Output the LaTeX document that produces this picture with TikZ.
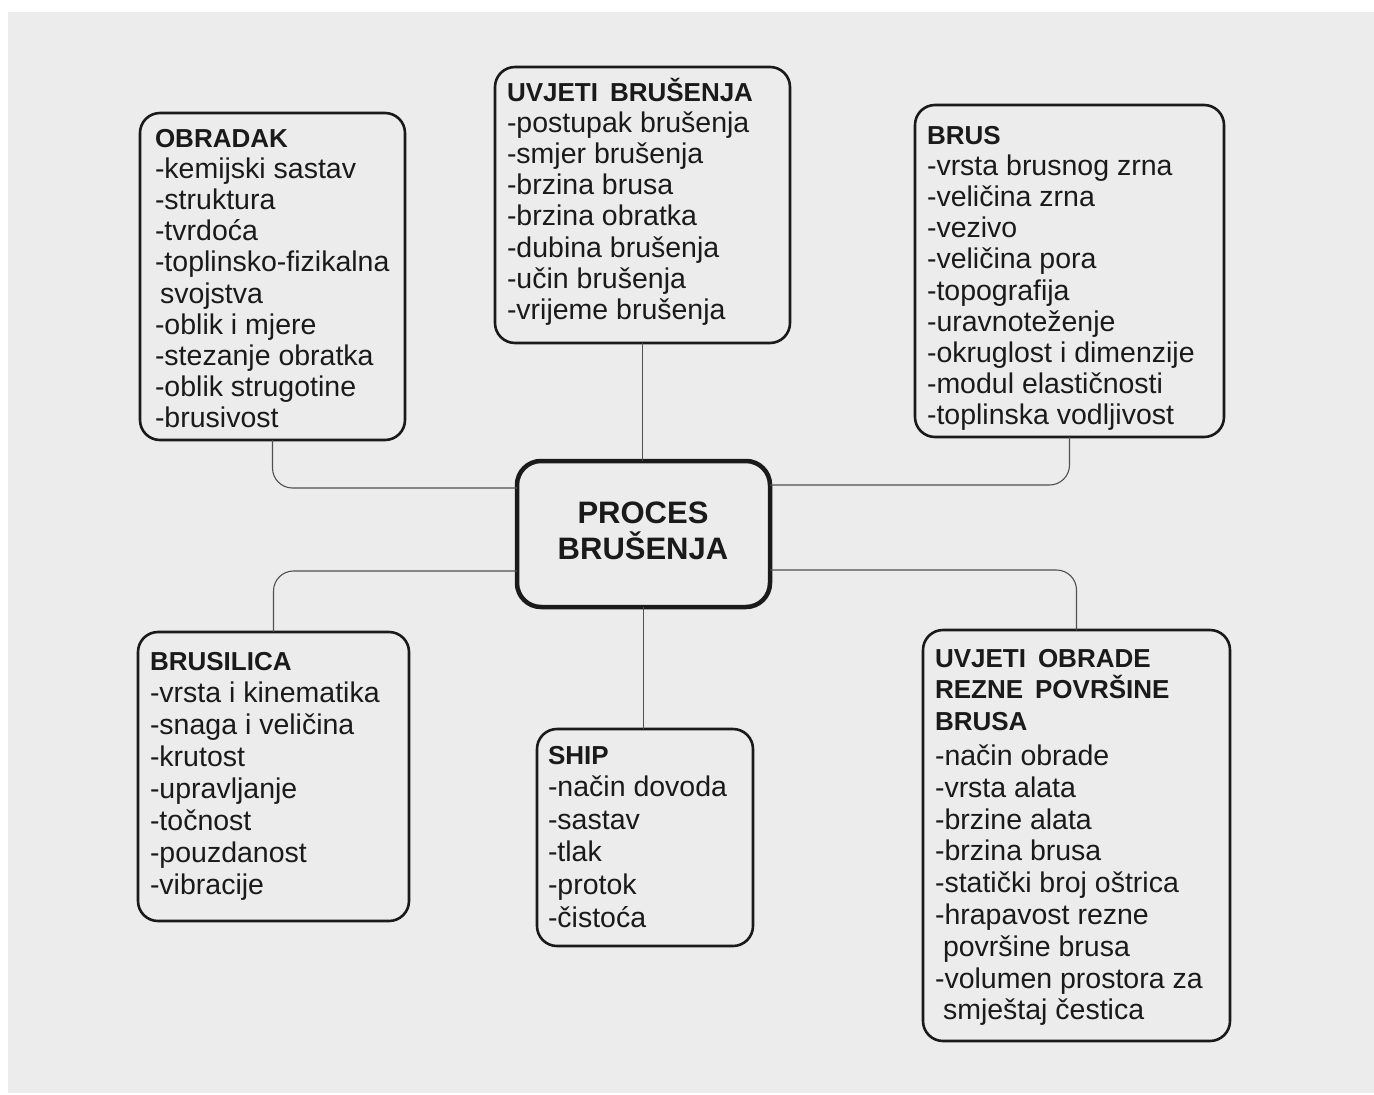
\documentclass[tikz,border=0pt]{standalone}
\usepackage{fontspec}
\setmainfont{Liberation Sans}
\definecolor{bgpaper}{HTML}{ECECEC}
\definecolor{inkc}{HTML}{1A1A1A}
\definecolor{connc}{HTML}{505050}
\newcommand\ttlfont{\fontsize{26pt}{31pt}\selectfont\bfseries}
\newcommand\bodyfont[1]{\fontsize{28.5pt}{#1pt}\selectfont}
\newcommand\firststrut{\rule{0pt}{25pt}}
\begin{document}
\begin{tikzpicture}[x=1pt,y=-1pt,
  box/.style={draw=inkc, line width=2.6pt, rounded corners=20pt, inner sep=0pt, outer sep=0pt, anchor=north west},
  cbox/.style={draw=inkc, line width=4.5pt, rounded corners=24pt, inner sep=0pt, outer sep=0pt, anchor=north west},
  txt/.style={text=inkc, align=left, inner sep=0pt, outer sep=0pt, anchor=north west},
  conn/.style={draw=connc, line width=1.1pt, rounded corners=20pt}]
\useasboundingbox (0,0) rectangle (1374,1095);
\fill[white] (0,0) rectangle (1374,1095);
\fill[bgpaper] (8,12) rectangle (1374,1093);

% boxes
\node[box, minimum width=265pt, minimum height=327pt] (obr) at (140,113) {};
\node[box, minimum width=295pt, minimum height=276pt] (ubr) at (495,67) {};
\node[box, minimum width=309pt, minimum height=332pt] (brus) at (915,105) {};
\node[cbox, minimum width=253pt, minimum height=146pt] (proc) at (517,461) {};
\node[box, minimum width=271pt, minimum height=289pt] (brs) at (138,632) {};
\node[box, minimum width=216pt, minimum height=217pt] (ship) at (537,729) {};
\node[box, minimum width=307pt, minimum height=411pt] (uob) at (923,630) {};

% texts
\node[txt, font=\bodyfont{31.2}] (obrt) at (155,122) {%
{\ttlfont\firststrut OBRADAK}\\
-kemijski sastav\\
-struktura\\
-tvrdoća\\
-toplinsko-fizikalna\\
\hspace*{5pt}svojstva\\
-oblik i mjere\\
-stezanje obratka\\
-oblik strugotine\\
-brusivost};

\node[txt, font=\bodyfont{31.2}] (ubrt) at (507,76) {%
{\ttlfont\firststrut UVJETI\hspace{12pt}BRUŠENJA}\\
-postupak brušenja\\
-smjer brušenja\\
-brzina brusa\\
-brzina obratka\\
-dubina brušenja\\
-učin brušenja\\
-vrijeme brušenja};

\node[txt, font=\bodyfont{31.2}] (brust) at (927,119) {%
{\ttlfont\firststrut BRUS}\\
-vrsta brusnog zrna\\
-veličina zrna\\
-vezivo\\
-veličina pora\\
-topografija\\
-uravnoteženje\\
-okruglost i dimenzije\\
-modul elastičnosti\\
-toplinska vodljivost};

\node[text=inkc, font=\fontsize{31pt}{36pt}\selectfont\bfseries, align=center, inner sep=0pt] (proct) at (643,531) {PROCES\\BRUŠENJA};

\node[txt, font=\bodyfont{32.1}] (brst) at (150,645) {%
{\ttlfont\firststrut BRUSILICA}\\
-vrsta i kinematika\\
-snaga i veličina\\
-krutost\\
-upravljanje\\
-točnost\\
-pouzdanost\\
-vibracije};

\node[txt, font=\bodyfont{32.6}] (shipt) at (548,739) {%
{\ttlfont\firststrut SHIP}\\
-način dovoda\\
-sastav\\
-tlak\\
-protok\\
-čistoća};

\node[txt, font=\bodyfont{31.8}] (uobt) at (935,642) {%
{\ttlfont\firststrut UVJETI\hspace{12pt}OBRADE}\\
{\ttlfont REZNE\hspace{12pt}POVRŠINE}\\
{\ttlfont BRUSA}\\[3pt]
-način obrade\\
-vrsta alata\\
-brzine alata\\
-brzina brusa\\
-statički broj oštrica\\
-hrapavost rezne\\
\hspace*{8pt}površine brusa\\
-volumen prostora za\\
\hspace*{8pt}smještaj čestica};

% connectors
\draw[conn] (ubr.south) -- (ubr.south |- proc.north);
\draw[conn] (proc.south) -- (proc.south |- ship.north);
\draw[conn] (obr.south) |- ([yshift=46pt]proc.west);
\draw[conn] (brus.south) |- ([yshift=49pt]proc.east);
\draw[conn] ([yshift=-37pt]proc.west) -| (brs.north);
\draw[conn] ([yshift=-36pt]proc.east) -| (uob.north);
\end{tikzpicture}
\end{document}
